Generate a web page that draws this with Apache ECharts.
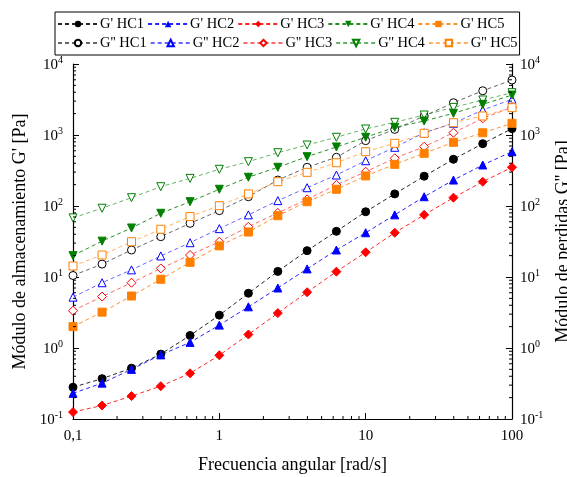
<!DOCTYPE html>
<html><head><meta charset="utf-8">
<script src="https://cdn.jsdelivr.net/npm/echarts@6/dist/echarts.min.js"></script>
<style>html,body{margin:0;padding:0;background:#fff}#c{width:567px;height:477px}</style>
</head><body><div id="c"></div>
<script>
const freq = [0.1,0.158,0.251,0.398,0.631,1,1.58,2.51,3.98,6.31,10,15.8,25.1,39.8,63.1,100];
const gp_HC1 = [0.28,0.37,0.52,0.82,1.5,2.9,5.9,12,23.5,44,83,148,263,455,755,1230];
const gp_HC2 = [0.23,0.32,0.5,0.8,1.2,2.1,3.8,7,13,24,42,75,135,232,378,582];
const gp_HC3 = [0.125,0.155,0.21,0.29,0.44,0.79,1.55,3.1,6.1,11.9,22.3,42,75,131,220,351];
const gp_HC4 = [20,32,49,79,115,172,254,351,495,678,929,1280,1575,2020,2700,3650];
const gp_HC5 = [2.0,3.2,5.4,9.3,16.1,27.4,43,73,115,172,265,386,552,789,1076,1462];
const gpp_HC1 = [10.5,15.2,24,37,57,86,135,232,351,485,832,1200,1850,2850,4200,5950];
const gpp_HC2 = [5.2,8.3,12.6,19.8,30.4,48,75,119,181,273,434,671,1076,1463,2248,3186];
const gpp_HC3 = [3.35,5.3,8.3,13.2,20.4,31.4,51,80,124,198,304,470,684,1076,1718,2455];
const gpp_HC4 = [68,93,131,187,245,329,421,563,723,929,1216,1509,1913,2450,3113,3945];
const gpp_HC5 = [14.3,20.4,31.4,47,71,101,148,220,298,407,582,764,1057,1490,1853,2425];
const seriesNames = ["G' HC1","G' HC2","G' HC3","G' HC4","G' HC5","G'' HC1","G'' HC2","G'' HC3","G'' HC4","G'' HC5"];
const xTickLabels = {0.1:'0,1',1:'1',10:'10',100:'100'};
const xMinor = [0.2,0.3,0.4,0.5,0.6,0.7,0.8,0.9,2,3,4,5,6,7,8,9,20,30,40,50,60,70,80,90];
const yMinor = [];
[0.1,1,10,100,1000].forEach(d=>{for(let k=2;k<=9;k++) yMinor.push(+(d*k).toPrecision(3));});

const colors = ['#000000','#0000ff','#ff0000','#007f00','#ff7f00'];
const symbols = ['circle','triangle','diamond','triangle','rect'];
const rotates = [0,0,0,180,0];
const gpData = [gp_HC1,gp_HC2,gp_HC3,gp_HC4,gp_HC5];
const gppData = [gpp_HC1,gpp_HC2,gpp_HC3,gpp_HC4,gpp_HC5];
const FONT = '"Liberation Serif","Times New Roman",serif';

const series = [];
for (let i=0;i<5;i++){
  series.push({name:seriesNames[i], type:'line', yAxisIndex:0,
    data: freq.map((f,j)=>[f,gpData[i][j]]),
    symbol:symbols[i], symbolRotate:rotates[i], symbolSize: i===2?9:8,
    itemStyle:{color:colors[i], borderColor:colors[i]},
    lineStyle:{color:colors[i], type:[4,3], width:1, opacity:0.85},
    z:3});
}
for (let i=0;i<5;i++){
  series.push({name:seriesNames[5+i], type:'line', yAxisIndex:1,
    data: freq.map((f,j)=>[f,gppData[i][j]]),
    symbol:symbols[i], symbolRotate:rotates[i], symbolSize: i===2?9:8,
    itemStyle:{color:'#ffffff', borderColor:colors[i], borderWidth:1},
    lineStyle:{color:colors[i], type:[4,3], width:1, opacity:0.6},
    z:2});
}
// minor ticks (axis decoration)
series.push({type:'custom', silent:true, clip:false, z:5,
  data: xMinor.map(v=>[v,0.1,0]).concat(yMinor.map(v=>[0.1,v,1])),
  renderItem:function(params, api){
    const kind = api.value(2);
    if (kind===0){
      const p = api.coord([api.value(0),0.1]);
      return {type:'line', shape:{x1:p[0],y1:p[1],x2:p[0],y2:p[1]-3}, style:{stroke:'#000',lineWidth:1}};
    } else {
      const p = api.coord([0.1,api.value(1)]);
      const q = api.coord([100,api.value(1)]);
      return {type:'group', children:[
        {type:'line', shape:{x1:p[0],y1:p[1],x2:p[0]+3,y2:p[1]}, style:{stroke:'#000',lineWidth:1}},
        {type:'line', shape:{x1:q[0],y1:q[1],x2:q[0]-3,y2:q[1]}, style:{stroke:'#000',lineWidth:1}}
      ]};
    }
  }
});

function yLab(v){
  const n = Math.round(Math.log10(v));
  return '{b|10}{s|' + (n<0?'-'+(-n):n) + '}';
}
const yRich = {b:{fontFamily:FONT,fontSize:15,color:'#000',lineHeight:17,verticalAlign:'bottom'},
               s:{fontFamily:FONT,fontSize:10,color:'#000',lineHeight:17,verticalAlign:'top'}};

const yAxisCommon = {type:'log', min:0.1, max:10000, logBase:10, interval:1,
  axisLine:{show:true,lineStyle:{color:'#000',width:1.2}},
  axisTick:{show:true,inside:true,length:6,lineStyle:{color:'#000'}},
  splitLine:{show:false},
  nameLocation:'middle', nameRotate:90,
  nameTextStyle:{fontFamily:FONT,fontSize:18,color:'#000'}
};

const option = {
  animation:false,
  backgroundColor:'#fff',
  legend:{data:seriesNames, left:55, top:12, width:472, itemWidth:40, itemHeight:8, itemGap:3,
    padding:[4,2,4,2], borderColor:'#000', borderWidth:1,
    textStyle:{fontFamily:FONT,fontSize:14.5,color:'#000', lineHeight:16, padding:[0,0,0,-3]}},
  grid:{left:73,right:55,top:64,bottom:58,containLabel:false,outerBoundsMode:'none'},
  xAxis:{type:'log', min:0.1, max:100, logBase:10,
    axisLine:{show:true,lineStyle:{color:'#000',width:1.2}},
    axisTick:{show:true,inside:true,length:6,lineStyle:{color:'#000'}},
    splitLine:{show:false},
    axisLabel:{fontFamily:FONT,fontSize:15,color:'#000',margin:10,formatter:v=>xTickLabels[+v.toPrecision(3)]||''},
    name:'Frecuencia angular [rad/s]', nameLocation:'middle', nameGap:37,
    nameTextStyle:{fontFamily:FONT,fontSize:18,color:'#000'}},
  yAxis:[
    Object.assign({}, yAxisCommon, {position:'left', name:"Módulo de almacenamiento G' [Pa]", nameGap:44,
      axisLabel:{formatter:yLab, rich:yRich, margin:10}}),
    Object.assign({}, yAxisCommon, {position:'right', name:"Módulo de perdidas G'' [Pa]", nameGap:35, nameRotate:90,
      axisLabel:{formatter:yLab, rich:yRich, margin:8}})
  ],
  series: series
};
const chart = echarts.init(document.getElementById('c'), null, {renderer:'canvas'});
chart.setOption(option);
</script></body></html>
